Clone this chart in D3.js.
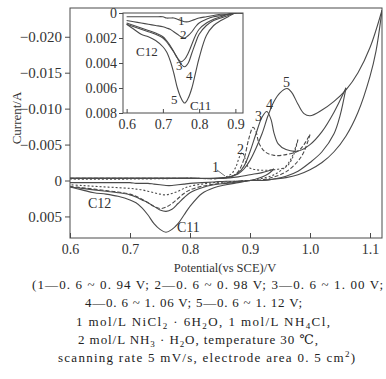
<!DOCTYPE html>
<html><head><meta charset="utf-8">
<script src="https://cdn.jsdelivr.net/npm/d3@7"></script>
<style>
html,body{margin:0;padding:0;background:#fff;}
svg{display:block;font-family:"Liberation Serif","DejaVu Serif",serif;}
</style></head>
<body><svg id="c" width="386" height="379"></svg>
<script>
// ---------- data ----------
const xTicks = [0.6, 0.7, 0.8, 0.9, 1.0, 1.1];
const yTicks = [-0.020, -0.015, -0.010, -0.005, 0, 0.005];
const insetXTicks = [0.6, 0.7, 0.8, 0.9];
const insetYTicks = [0, 0.002, 0.004, 0.006, 0.008];

// forward (anodic) scans [potential V, current A]
const forward1 = [[0.6,-0.0003],[0.7,-0.0003],[0.8,-0.0003],[0.85,-0.0003],[0.88,-0.0005],[0.90,-0.0008],[0.92,-0.0011],[0.94,-0.0016]];
const forward2 = [[0.6,-0.0002],[0.7,-0.0002],[0.8,-0.0003],[0.85,-0.0003],[0.86,-0.0005],[0.87,-0.0010],[0.877,-0.0020],[0.882,-0.0032],[0.887,-0.0039],[0.892,-0.0030],[0.897,-0.0019],[0.91,-0.0015],[0.94,-0.0015],[0.96,-0.0019],[0.97,-0.0030],[0.98,-0.0057]];
const forward3 = [[0.6,-0.0003],[0.7,-0.0003],[0.8,-0.0003],[0.85,-0.0003],[0.87,-0.0006],[0.88,-0.0012],[0.89,-0.0030],[0.898,-0.0058],[0.905,-0.0074],[0.91,-0.0068],[0.915,-0.0052],[0.925,-0.0040],[0.94,-0.0035],[0.96,-0.0036],[0.98,-0.0041],[0.99,-0.0050],[1.00,-0.0064]];
const forward4 = [[0.6,-0.0003],[0.7,-0.0003],[0.8,-0.0003],[0.86,-0.0004],[0.88,-0.0010],[0.89,-0.0020],[0.90,-0.0040],[0.91,-0.0065],[0.92,-0.0088],[0.928,-0.0096],[0.935,-0.0085],[0.94,-0.0066],[0.947,-0.0051],[0.96,-0.0043],[0.98,-0.0041],[1.00,-0.0050],[1.02,-0.0068],[1.04,-0.0095],[1.06,-0.0129]];
const forward5 = [[0.6,-0.0003],[0.7,-0.0003],[0.8,-0.0003],[0.86,-0.0004],[0.88,-0.0009],[0.89,-0.0016],[0.90,-0.0028],[0.91,-0.0045],[0.92,-0.0065],[0.93,-0.0090],[0.94,-0.0110],[0.95,-0.0122],[0.962,-0.0128],[0.97,-0.0122],[0.98,-0.0106],[0.99,-0.0093],[1.00,-0.0090],[1.02,-0.0098],[1.04,-0.0110],[1.06,-0.0126],[1.08,-0.0150],[1.10,-0.0185],[1.12,-0.0237]];

// reverse scans, anodic part (vertex down to 0.92 V)
const reverse1 = [[0.94,-0.0016],[0.93,-0.0009],[0.92,-0.0005]];
const reverse2 = [[0.98,-0.0057],[0.97,-0.0033],[0.96,-0.0020],[0.94,-0.0008],[0.92,-0.0003]];
const reverse3 = [[1.00,-0.0064],[0.99,-0.0040],[0.98,-0.0027],[0.96,-0.0012],[0.94,-0.0005],[0.92,-0.0001]];
const reverse4 = [[1.06,-0.0129],[1.05,-0.0090],[1.04,-0.0065],[1.02,-0.0040],[1.00,-0.0025],[0.98,-0.0013],[0.96,-0.0006],[0.94,-0.0002],[0.92,0.0000]];
const reverse5 = [[1.12,-0.0237],[1.11,-0.0180],[1.10,-0.0145],[1.08,-0.0095],[1.06,-0.0062],[1.04,-0.0040],[1.02,-0.0025],[1.00,-0.0015],[0.98,-0.0008],[0.96,-0.0004],[0.94,-0.0002],[0.92,0.0000]];

// reverse scans, cathodic part (0.90 V down to 0.60 V)
const cathodicV = [0.90,0.88,0.86,0.84,0.82,0.80,0.79,0.78,0.77,0.76,0.75,0.74,0.73,0.72,0.71,0.70,0.68,0.66,0.64,0.62,0.60];
const cathodic1 = [0.0000,0.0001,0.0001,0.0002,0.0003,0.0004,0.0005,0.0006,0.0007,0.0007,0.0006,0.0005,0.0004,0.0004,0.0004,0.0003,0.0003,0.0003,0.0003,0.0003,0.0003];
const cathodic2 = [0.0000,0.0001,0.0002,0.0003,0.0005,0.0008,0.0011,0.0015,0.0018,0.0020,0.0019,0.0017,0.0015,0.0013,0.0012,0.0011,0.0010,0.0009,0.0008,0.0007,0.0006];
const cathodic3 = [0.0000,0.0001,0.0003,0.0005,0.0008,0.0013,0.0018,0.0025,0.0032,0.0037,0.0039,0.0036,0.0031,0.0026,0.0022,0.0019,0.0016,0.0014,0.0012,0.0010,0.0008];
const cathodic4 = [0.0000,0.0002,0.0004,0.0006,0.0010,0.0017,0.0024,0.0032,0.0040,0.0043,0.0041,0.0036,0.0031,0.0027,0.0023,0.0020,0.0017,0.0015,0.0013,0.0011,0.0009];
const cathodic5 = [0.0000,0.0003,0.0006,0.0010,0.0018,0.0036,0.0048,0.0060,0.0068,0.0072,0.0068,0.0060,0.0048,0.0038,0.0031,0.0027,0.0022,0.0019,0.0017,0.0013,0.0009];

const curveIds = ["1","2","3","4","5"];
const captionLines = [
  [["(1—0. 6 ~ 0. 94 V;  2—0. 6 ~ 0. 98 V;  3—0. 6 ~ 1. 00 V;",""]],
  [["4—0. 6 ~ 1. 06 V;  5—0. 6 ~ 1. 12 V;",""]],
  [["1 mol/L NiCl",""],["2","sub"],[" · 6H",""],["2","sub"],["O,  1 mol/L NH",""],["4","sub"],["Cl,",""]],
  [["2 mol/L NH",""],["3","sub"],[" · H",""],["2","sub"],["O,  temperature 30 ℃,",""]],
  [["scanning rate 5 mV/s,  electrode area 0. 5 cm",""],["2","sup"],[")",""]]
];

// ---------- drawing ----------
const svg = d3.select("#c");
const ink = "#4a4a4a";
const x = d3.scaleLinear().domain([0.6, 1.12]).range([70, 382]);
const y = d3.scaleLinear().domain([-0.024, 0.008]).range([8, 238]);

const fwd = [forward1, forward2, forward3, forward4, forward5];
const rev = [reverse1, reverse2, reverse3, reverse4, reverse5];
const cat = [cathodic1, cathodic2, cathodic3, cathodic4, cathodic5];
const dashes = [null, "2,2", "4,2", null, null];

svg.append("defs").append("clipPath").attr("id","mainClip")
  .append("rect").attr("x",70).attr("y",8).attr("width",312).attr("height",230);

const line = d3.line().x(d=>x(d[0])).y(d=>y(d[1])).curve(d3.curveCatmullRom.alpha(0.5));
const gCurves = svg.append("g").attr("clip-path","url(#mainClip)");
curveIds.forEach((id,i)=>{
  const revAll = rev[i].concat(cathodicV.map((v,k)=>[v, cat[i][k]]));
  [fwd[i], revAll].forEach(branch=>{
    gCurves.append("path").attr("d", line(branch)).attr("fill","none")
      .attr("stroke", ink).attr("stroke-width", 1.1)
      .attr("stroke-dasharray", dashes[i]);
  });
});

// main axes
const fmtY = d => d === 0 ? "0" : (d < 0 ? "−" : "") + Math.abs(d).toFixed(3);
const gx = svg.append("g").attr("transform","translate(0,238)")
  .call(d3.axisBottom(x).tickValues(xTicks).tickFormat(d=>d.toFixed(1)).tickSizeInner(-5).tickSizeOuter(0).tickPadding(6));
const gy = svg.append("g").attr("transform","translate(70,0)")
  .call(d3.axisLeft(y).tickValues(yTicks).tickFormat(fmtY).tickSize(5).tickPadding(3));
[gx, gy].forEach(g=>{
  g.selectAll("path,line").attr("stroke", ink);
  g.selectAll("text").attr("fill","#333").attr("font-size",15).attr("font-family","Liberation Serif");
  g.select(".domain").remove();
});
gx.selectAll("text").attr("font-size",14);
svg.append("rect").attr("x",70).attr("y",8).attr("width",312).attr("height",230)
  .attr("fill","none").attr("stroke",ink).attr("stroke-width",1);

// axis titles
svg.append("text").attr("x",225).attr("y",272).attr("text-anchor","middle")
  .attr("font-size",12.5).attr("fill","#333").text("Potential(vs SCE)/V");
svg.append("text").attr("transform","translate(21,118) rotate(-90)").attr("text-anchor","middle")
  .attr("font-size",13).attr("fill","#333").text("Current/A");

// main annotations
const mainLabels = [["1",212,172],["2",237,154],["3",255,121],["4",266,109],["5",283,87],["C12",88,208],["C11",177,232]];
mainLabels.forEach(l=>svg.append("text").attr("x",l[1]).attr("y",l[2]).attr("font-size",14).attr("fill","#333").text(l[0]));
svg.append("line").attr("x1",217).attr("y1",170).attr("x2",225).attr("y2",176).attr("stroke",ink).attr("stroke-width",0.8);

// ---------- inset ----------
const xi = d3.scaleLinear().domain([0.59, 0.921]).range([123, 243]);
const yi = d3.scaleLinear().domain([0, 0.008]).range([13, 113]);
svg.append("rect").attr("x",123).attr("y",13).attr("width",120).attr("height",100).attr("fill","#fff");
svg.select("defs").append("clipPath").attr("id","insetClip")
  .append("rect").attr("x",123).attr("y",13).attr("width",120).attr("height",100);
const lineI = d3.line().x(d=>xi(d[0])).y(d=>yi(d[1])).curve(d3.curveCatmullRom.alpha(0.5));
const gI = svg.append("g").attr("clip-path","url(#insetClip)");
curveIds.forEach((id,i)=>{
  const revAll = rev[i].concat(cathodicV.map((v,k)=>[v, cat[i][k]]));
  gI.append("path").attr("d", lineI(revAll)).attr("fill","none").attr("stroke",ink).attr("stroke-width",1.1);
  gI.append("path").attr("d", lineI(fwd[i])).attr("fill","none").attr("stroke",ink).attr("stroke-width",1.1);
});
const gxi = svg.append("g").attr("transform","translate(0,113)")
  .call(d3.axisBottom(xi).tickValues(insetXTicks).tickFormat(d=>d.toFixed(1)).tickSizeInner(-4).tickSizeOuter(0).tickPadding(6));
const gyi = svg.append("g").attr("transform","translate(123,0)")
  .call(d3.axisLeft(yi).tickValues(insetYTicks).tickFormat(d=>d===0?"0":d.toFixed(3)).tickSize(4).tickPadding(2));
[gxi, gyi].forEach(g=>{
  g.selectAll("path,line").attr("stroke", ink);
  g.selectAll("text").attr("fill","#333").attr("font-size",14).attr("font-family","Liberation Serif");
  g.select(".domain").remove();
});
svg.append("rect").attr("x",123).attr("y",13).attr("width",120).attr("height",100)
  .attr("fill","none").attr("stroke",ink).attr("stroke-width",1);
const insetLabels = [["1",178,25],["2",180,39],["3",176,70],["4",186,80],["5",171,104],["C12",136,56],["C11",190,110]];
insetLabels.forEach(l=>svg.append("text").attr("x",l[1]).attr("y",l[2]).attr("font-size",13).attr("fill","#333").text(l[0]));

// ---------- caption ----------
const capPos = [[32,289,351],[85,307,217],[76,326,254],[78,344,240],[58,362,297]];
captionLines.forEach((segs,i)=>{
  const t = svg.append("text").attr("x",capPos[i][0]).attr("y",capPos[i][1])
    .attr("font-size",13).attr("fill","#222")
    .attr("textLength",capPos[i][2]).attr("lengthAdjust","spacing");
  let shift = 0;
  segs.forEach(s=>{
    const ts = t.append("tspan").text(s[0]);
    const target = s[1]==="sub" ? 3 : s[1]==="sup" ? -5 : 0;
    if (s[1]) ts.attr("font-size",9);
    ts.attr("dy", target - shift);
    shift = target;
  });
});
</script></body></html>
